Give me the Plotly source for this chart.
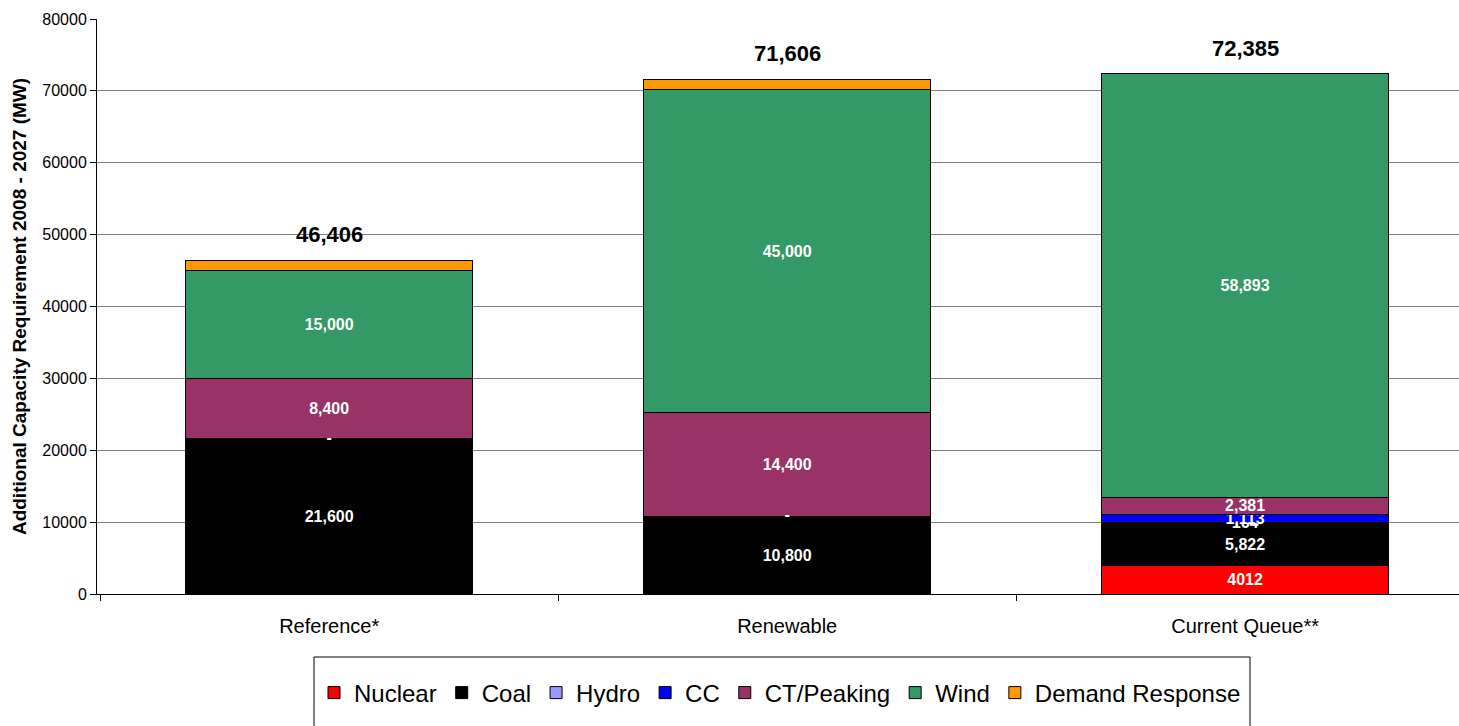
import plotly.graph_objects as go

categories = ["Reference*", "Renewable", "Current Queue**"]
series_names = ["Nuclear", "Coal", "Hydro", "CC", "CT/Peaking", "Wind", "Demand Response"]
nuclear = [0, 0, 4012]
coal = [21600, 10800, 5822]
hydro = [0, 0, 164]
cc = [0, 0, 1113]
ct_peaking = [8400, 14400, 2381]
wind = [15000, 45000, 58893]
demand_response = [1406, 1406, 0]
colors = ["#FF0000", "#000000", "#9999FF", "#0000FF", "#993366", "#339966", "#FF9900"]
y_ticks = [0, 10000, 20000, 30000, 40000, 50000, 60000, 70000, 80000]

series = [nuclear, coal, hydro, cc, ct_peaking, wind, demand_response]

FONT = "Liberation Sans, Arial, sans-serif"


def label(name, v):
    if v == 0 or name == "Demand Response":
        return ""
    if name == "Nuclear":
        return str(v)
    return f"{v:,}"


fig = go.Figure()
for name, vals, col in zip(series_names, series, colors):
    fig.add_trace(go.Bar(
        name=name, x=categories, y=vals,
        marker=dict(color=col, line=dict(color="#000000", width=1)),
        width=0.627,
        text=[label(name, v) for v in vals],
        textposition="inside", insidetextanchor="middle",
        textfont=dict(family=FONT, size=16, color="white", weight="bold"),
        cliponaxis=False,
    ))

# "-" labels for zero-valued Hydro segments (sit on top of Coal)
dash_x = [c for c, h in zip(categories, hydro) if h == 0]
dash_y = [n + c for n, c, h in zip(nuclear, coal, hydro) if h == 0]
fig.add_trace(go.Scatter(
    x=dash_x, y=dash_y, mode="text", text=["-"] * len(dash_x),
    textposition="middle center", showlegend=False, hoverinfo="skip",
    textfont=dict(family=FONT, size=16, color="white", weight="bold"),
    cliponaxis=False,
))

totals = [sum(s[i] for s in series) for i in range(len(categories))]
for c, t in zip(categories, totals):
    fig.add_annotation(x=c, y=t, text=f"{t:,}", showarrow=False, yanchor="bottom", yshift=11,
                       font=dict(family=FONT, size=22, color="black", weight="bold"))

L, R, T, B = 97, 0, 19, 132
W, H = 1459, 726
pw, ph = W - L - R, H - T - B


def px2x(px):
    return (px - L) / pw


def py2y(py):
    return (H - B - py) / ph


fig.add_shape(type="rect", xref="paper", yref="paper",
              x0=px2x(314), x1=px2x(1250), y0=py2y(657), y1=py2y(740),
              line=dict(color="black", width=1), fillcolor="rgba(0,0,0,0)")

fig.update_layout(
    width=W, height=H,
    margin=dict(l=L, r=R, t=T, b=B, autoexpand=False),
    barmode="stack",
    plot_bgcolor="white", paper_bgcolor="white",
    font=dict(family=FONT, color="black"),
    uniformtext=dict(minsize=16, mode="show"),
    showlegend=True,
    legend=dict(orientation="h", x=px2x(780), xanchor="center", y=py2y(693), yanchor="middle",
                traceorder="normal", font=dict(family=FONT, size=24, color="black"),
                bgcolor="rgba(0,0,0,0)", borderwidth=0, itemwidth=30),
    xaxis=dict(range=[-0.507, 2.467], showline=True, linecolor="black", linewidth=1,
               ticks="outside", tickson="boundaries", ticklen=6, tickcolor="black",
               ticklabelstandoff=14,
               tickfont=dict(family=FONT, size=20, color="black"), showgrid=False),
    yaxis=dict(range=[0, 80000], tickvals=y_ticks, tickformat="d",
               showline=True, linecolor="black", linewidth=1,
               ticks="outside", ticklen=6, tickcolor="black",
               tickfont=dict(family=FONT, size=16, color="black"),
               showgrid=True, gridcolor="#808080", gridwidth=1, zeroline=False,
               automargin=False,
               title=dict(text="Additional Capacity Requirement 2008 - 2027 (MW)",
                          font=dict(family=FONT, size=19, color="black", weight="bold"),
                          standoff=10)),
)

fig.write_html("out.html")
